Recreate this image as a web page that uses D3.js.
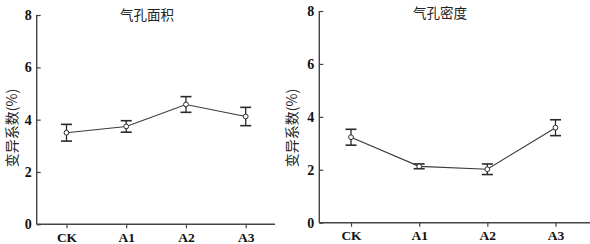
<!DOCTYPE html>
<html><head><meta charset="utf-8">
<script src="https://cdn.jsdelivr.net/npm/d3@7"></script>
<style>
html,body{margin:0;padding:0;background:#fff;}
svg{display:block;}
</style>
</head><body>
<svg id="c" width="590" height="244"></svg>
<script>
const categories = ["CK", "A1", "A2", "A3"];
const areaValues = [3.50, 3.74, 4.58, 4.12];
const areaErrors = [0.32, 0.22, 0.30, 0.35];
const densityValues = [3.23, 2.13, 2.02, 3.59];
const densityErrors = [0.30, 0.09, 0.20, 0.30];
const yTicks = [0, 2, 4, 6, 8];
const titles = ["气孔面积", "气孔密度"];
const yLabel = "变异系数(%)";

const svg = d3.select("#c");
const ink = "#2a2a2a";

const panels = [
  {title: titles[0], values: areaValues, errors: areaErrors,
   axisX: 36.7, xEnd: 275, y0: 224.3, y8: 15, x0: 66.5, x3: 245.7,
   titleX: 147, titleY: 20, labelX: 11},
  {title: titles[1], values: densityValues, errors: densityErrors,
   axisX: 319.3, xEnd: 590, y0: 222.7, y8: 11, x0: 351, x3: 555.5,
   titleX: 440, titleY: 18, labelX: 291}
];

panels.forEach(p => {
  const g = svg.append("g");
  const x = d3.scalePoint().domain(categories).range([p.x0, p.x3]);
  const y = d3.scaleLinear().domain([0, 8]).range([p.y0, p.y8]);

  g.append("line").attr("x1", p.axisX).attr("x2", p.xEnd)
    .attr("y1", p.y0).attr("y2", p.y0)
    .attr("stroke", "#444").attr("stroke-width", 1.4);
  g.append("line").attr("x1", p.axisX).attr("x2", p.axisX)
    .attr("y1", p.y0).attr("y2", p.y8)
    .attr("stroke", "#444").attr("stroke-width", 1.4);

  const xa = g.append("g").attr("transform", `translate(0,${p.y0})`)
    .call(d3.axisBottom(x).tickSize(4).tickPadding(4));
  xa.select(".domain").remove();
  xa.selectAll("line").attr("stroke", "#444").attr("stroke-width", 1.2);
  xa.selectAll("text").attr("font-family", "Liberation Serif, serif")
    .attr("font-weight", "bold").attr("font-size", 13.5).attr("fill", "#111");

  const ya = g.append("g").attr("transform", `translate(${p.axisX},0)`)
    .call(d3.axisLeft(y).tickValues(yTicks).tickSize(-4).tickPadding(5).tickFormat(d3.format("d")));
  ya.select(".domain").remove();
  ya.selectAll("line").attr("stroke", "#444").attr("stroke-width", 1.2);
  ya.selectAll("text").attr("font-family", "Liberation Serif, serif")
    .attr("font-weight", "bold").attr("font-size", 14).attr("fill", "#111");

  g.append("text").attr("x", p.titleX).attr("y", p.titleY)
    .attr("text-anchor", "middle")
    .attr("font-family", "Noto Sans CJK SC, sans-serif")
    .attr("font-size", 13.5).attr("fill", "#222").text(p.title);

  g.append("text")
    .attr("transform", `translate(${p.labelX},128) rotate(-90)`)
    .attr("text-anchor", "middle").attr("dominant-baseline", "central")
    .attr("font-family", "Noto Sans CJK SC, sans-serif")
    .attr("font-size", 14).attr("fill", "#222").text(yLabel);

  const data = categories.map((c, i) => ({c, v: p.values[i], e: p.errors[i]}));

  g.append("path").datum(data)
    .attr("d", d3.line().x(d => x(d.c)).y(d => y(d.v)))
    .attr("fill", "none").attr("stroke", "#3a3a3a").attr("stroke-width", 1.1);

  const eb = g.selectAll(".eb").data(data).enter().append("g");
  eb.append("line").attr("x1", d => x(d.c)).attr("x2", d => x(d.c))
    .attr("y1", d => y(d.v - d.e)).attr("y2", d => y(d.v + d.e))
    .attr("stroke", ink).attr("stroke-width", 1.3);
  [-1, 1].forEach(s => {
    eb.append("line").attr("x1", d => x(d.c) - 5.5).attr("x2", d => x(d.c) + 5.5)
      .attr("y1", d => y(d.v + s * d.e)).attr("y2", d => y(d.v + s * d.e))
      .attr("stroke", ink).attr("stroke-width", 1.6);
  });

  g.selectAll(".pt").data(data).enter().append("circle")
    .attr("cx", d => x(d.c)).attr("cy", d => y(d.v)).attr("r", 2.4)
    .attr("fill", "#fff").attr("stroke", ink).attr("stroke-width", 1);
});
</script>
</body></html>
